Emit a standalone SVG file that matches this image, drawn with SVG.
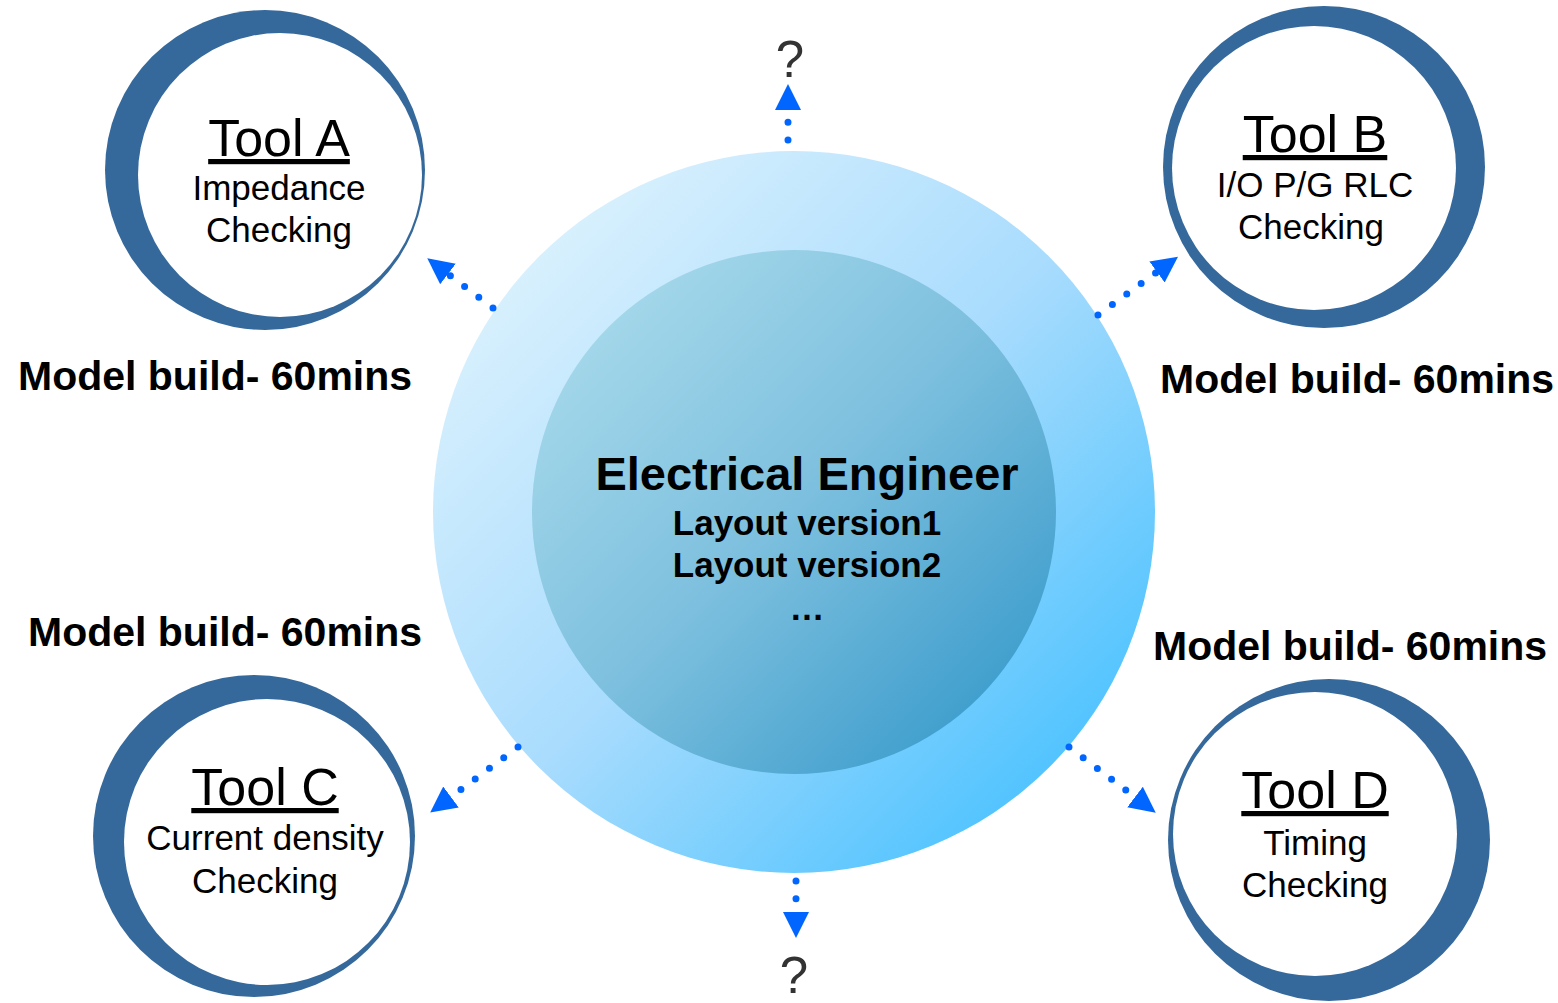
<svg xmlns="http://www.w3.org/2000/svg" width="1558" height="1003" viewBox="0 0 1558 1003">
<style>
.ring{fill:#35689b}
.inner{fill:#ffffff}
.title{font-family:"Liberation Sans",Arial,sans-serif;font-size:52px;fill:#000;text-anchor:middle;text-decoration:underline}
.sub{font-family:"Liberation Sans",Arial,sans-serif;font-size:35px;fill:#000;text-anchor:middle}
.mb{font-family:"Liberation Sans",Arial,sans-serif;font-size:41px;font-weight:bold;fill:#000}
.ee{font-family:"Liberation Sans",Arial,sans-serif;font-weight:bold;fill:#000;text-anchor:middle}
.q{font-family:"Liberation Sans",Arial,sans-serif;font-size:51px;fill:#333;text-anchor:middle}
.dots{fill:none;stroke:#0066ff;stroke-width:7;stroke-linecap:round;stroke-dasharray:0 17.8}
</style>
<defs>
<linearGradient id="gOuter" x1="0" y1="0" x2="1" y2="1">
<stop offset="0" stop-color="#eaf8fd"/>
<stop offset="0.5" stop-color="#a9dcfd"/>
<stop offset="1" stop-color="#2fbaff"/>
</linearGradient>
<linearGradient id="gInner" x1="0" y1="0" x2="1" y2="1">
<stop offset="0" stop-color="#b2e0ee"/>
<stop offset="0.5" stop-color="#7cbfde"/>
<stop offset="1" stop-color="#2a93c7"/>
</linearGradient>
<marker id="ah" markerUnits="userSpaceOnUse" markerWidth="30" markerHeight="30" refX="0" refY="13" orient="auto" viewBox="0 0 30 26">
<path d="M0,0 L26,13 L0,26 z" fill="#0066ff"/>
</marker>
</defs>

<g id="center">
<circle cx="794" cy="512" r="361" fill="url(#gOuter)"/>
<circle cx="794" cy="512" r="262" fill="url(#gInner)"/>
<text class="ee" x="807" y="490" font-size="47">Electrical Engineer</text>
<text class="ee" x="807" y="535" font-size="35">Layout version1</text>
<text class="ee" x="807" y="577" font-size="35">Layout version2</text>
<text class="ee" x="807" y="620" font-size="35">…</text>
</g>

<g id="toolA">
<circle class="ring" cx="265" cy="170" r="160"/>
<circle class="inner" cx="280" cy="175" r="142"/>
<text class="title" x="279" y="156">Tool A</text>
<text class="sub" x="279" y="200">Impedance</text>
<text class="sub" x="279" y="242">Checking</text>
</g>

<g id="toolB">
<circle class="ring" cx="1324" cy="167" r="161"/>
<circle class="inner" cx="1314" cy="168" r="142"/>
<text class="title" x="1315" y="152">Tool B</text>
<text class="sub" x="1315" y="197">I/O P/G RLC</text>
<text class="sub" x="1311" y="239">Checking</text>
</g>

<g id="toolC">
<circle class="ring" cx="254" cy="836" r="161"/>
<circle class="inner" cx="267" cy="842" r="143"/>
<text class="title" x="265" y="805">Tool C</text>
<text class="sub" x="265" y="850">Current density</text>
<text class="sub" x="265" y="893">Checking</text>
</g>

<g id="toolD">
<circle class="ring" cx="1329" cy="840" r="161"/>
<circle class="inner" cx="1315" cy="834" r="142"/>
<text class="title" x="1315" y="808">Tool D</text>
<text class="sub" x="1315" y="855">Timing</text>
<text class="sub" x="1315" y="897">Checking</text>
</g>

<g id="labels">
<text class="mb" x="18" y="390">Model build- 60mins</text>
<text class="mb" x="1160" y="393">Model build- 60mins</text>
<text class="mb" x="28" y="646">Model build- 60mins</text>
<text class="mb" x="1153" y="660">Model build- 60mins</text>
<text class="q" x="790" y="77">?</text>
<text class="q" x="794" y="993" font-size="47">?</text>
</g>

<g id="connectors">
<path class="dots" d="M788,140 L788,110" marker-end="url(#ah)"/>
<path class="dots" d="M796,881 L796,912" marker-end="url(#ah)"/>
<path class="dots" d="M493,308 L448,274" marker-end="url(#ah)"/>
<path class="dots" d="M1098,315 L1157,272" marker-end="url(#ah)"/>
<path class="dots" d="M518,747 L451,797" marker-end="url(#ah)"/>
<path class="dots" d="M1069,747 L1135,797" marker-end="url(#ah)"/>
</g>
</svg>
